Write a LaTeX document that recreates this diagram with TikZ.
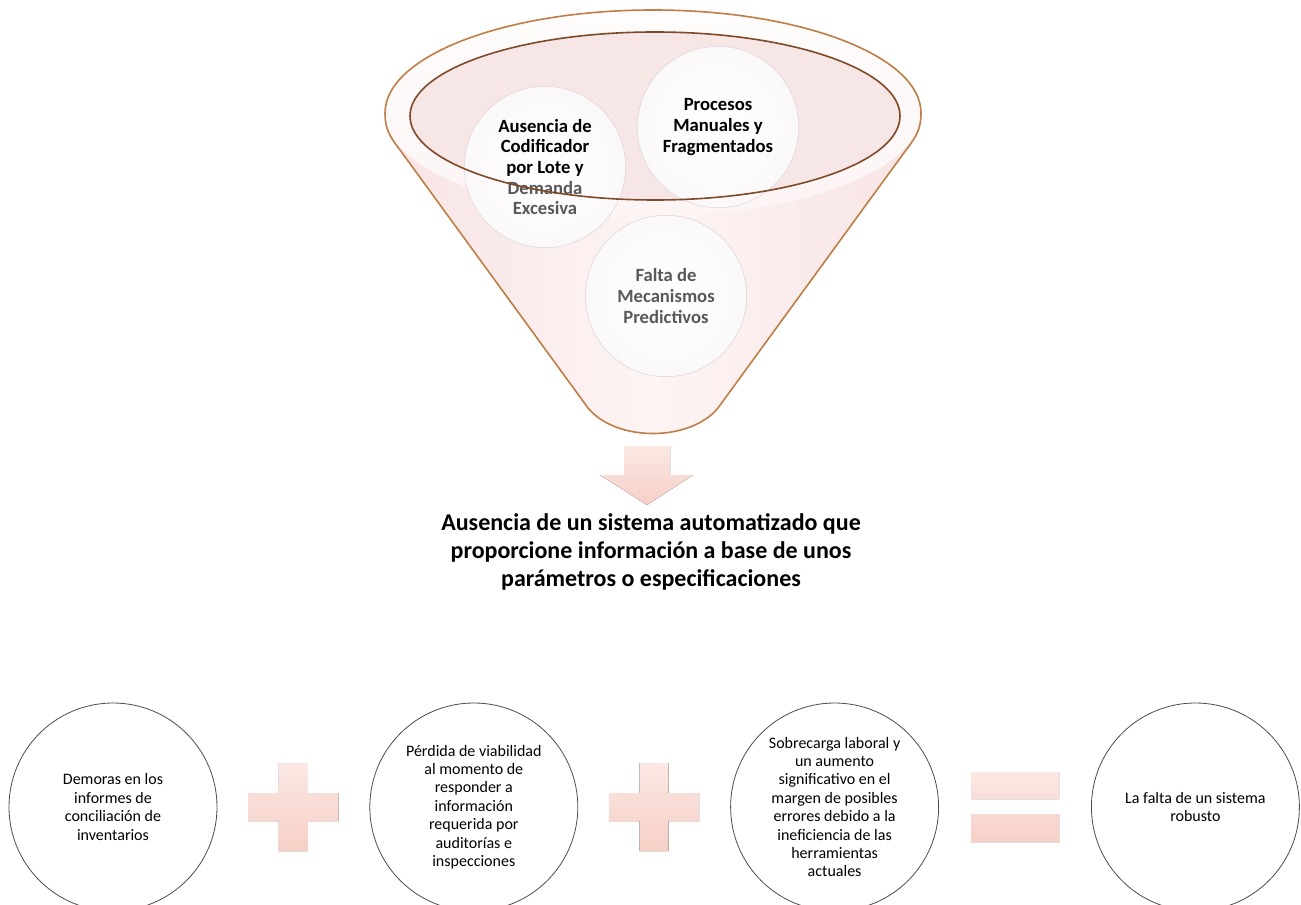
\documentclass[tikz,border=0pt]{standalone}
\usepackage{fontspec}
\setmainfont{Carlito}
\usepackage{tikz}
\usetikzlibrary{positioning,calc}

\definecolor{rimcopper}{HTML}{BE7E45}
\definecolor{rimdark}{HTML}{7E4A2A}
\definecolor{rimwhite}{HTML}{FEFCFC}
\definecolor{bodyedge}{HTML}{F8E4E4}
\definecolor{bodymid}{HTML}{FDF4F4}
\definecolor{mouthpink}{HTML}{F7E6E6}
\definecolor{bubblemid}{HTML}{FAF7F8}
\definecolor{bubbleedge}{HTML}{E8E1E5}
\definecolor{bubblerim}{HTML}{DDD4D9}
\definecolor{signtop}{HTML}{FBE8E4}
\definecolor{signbot}{HTML}{F6CFC6}
\definecolor{causegray}{HTML}{595959}

\pgfdeclareradialshading{bubble}{\pgfpoint{0bp}{0bp}}{color(0bp)=(white); color(28bp)=(bubblemid); color(46bp)=(bubbleedge); color(50bp)=(bubblerim); color(100bp)=(bubblerim)}

\tikzset{
  cause/.style={circle, minimum size=121pt, inner sep=0pt, align=center, shading=bubble, draw=bubblerim, line width=0.4pt, font=\bfseries\fontsize{14}{15.5}\selectfont},
  effect/.style={circle, draw=gray!60!black, line width=0.6pt, minimum size=156pt, inner sep=0pt, align=center, font=\fontsize{12}{13.8}\selectfont},
  signbar/.style={top color=signtop, bottom color=signbot},
  problem/.style={align=center, font=\bfseries\fontsize{18}{21}\selectfont}
}

\begin{document}
\begin{tikzpicture}[x=0.75pt, y=-0.75pt]
    \useasboundingbox (0,0) rectangle (1301,905);
    \clip (0,0) rectangle (1301,905);

    % funnel
    \def\funnel{(385,113) arc[start angle=180, end angle=360, x radius=268, y radius=103]
        .. controls (921,128) and (917,136) .. (906,150) -- (718,408)
        .. controls (690,442) and (616,442) .. (588,408) -- (400,150)
        .. controls (389,136) and (385,128) .. (385,113) -- cycle}
    \shade[left color=bodyedge, right color=bodyedge, middle color=bodymid] \funnel;
    \begin{scope}
        \clip \funnel;
        \shade[top color=rimwhite, bottom color=bodymid] (653,113) ellipse[x radius=268, y radius=103];
    \end{scope}
    \fill[mouthpink] (655,116) ellipse[x radius=245, y radius=84];

    \node[cause] (lote) at (545,167) {Ausencia de\\Codificador\\por Lote y\\\textcolor{causegray}{Demanda}\\\textcolor{causegray}{Excesiva}};
    \node[cause] (procesos) at (718,127) {Procesos\\Manuales y\\Fragmentados};
    \node[cause, text=causegray] (predictivos) at (666,296) {Falta de\\Mecanismos\\Predictivos};

    \draw[rimdark, line width=1.2pt] (655,116) ellipse[x radius=245, y radius=84];
    \draw[rimcopper, line width=1.2pt] \funnel;

    % arrow and result
    \fill[signbar] (624,446) -- (670,446) -- (670,475) -- (693,475) -- (647,505)
        -- (600,475) -- (624,475) -- cycle;
    \node[problem] (sistema) at (651,552) {Ausencia de un sistema automatizado que\\proporcione información a base de unos\\parámetros o especificaciones};

    % bottom row
    \node[effect] (demoras) at (113,807) {Demoras en los\\informes de\\conciliación de\\inventarios};
    \node[effect, right=114pt of demoras] (perdida) {Pérdida de viabilidad\\al momento de\\responder a\\información\\requerida por\\auditorías e\\inspecciones};
    \node[effect, right=114pt of perdida] (sobrecarga) {Sobrecarga laboral y\\un aumento\\significativo en el\\margen de posibles\\errores debido a la\\ineficiencia de las\\herramientas\\actuales};
    \node[effect, right=114pt of sobrecarga] (robusto) {La falta de un sistema\\robusto};

    \coordinate (masA) at ($(demoras)!0.5!(perdida)$);
    \coordinate (masB) at ($(perdida)!0.5!(sobrecarga)$);
    \coordinate (igual) at ($(sobrecarga)!0.5!(robusto)$);
    \foreach \p in {masA,masB}
        \fill[signbar, shift={(\p)}] (-14.5,-44) -- (14.5,-44) -- (14.5,-14) -- (45,-14)
            -- (45,14) -- (14.5,14) -- (14.5,44) -- (-14.5,44) -- (-14.5,14)
            -- (-45,14) -- (-45,-14) -- (-14.5,-14) -- cycle;
    \fill[signbar, shift={(igual)}] (-44,-35) rectangle (44,-8) (-44,7) rectangle (44,35);
\end{tikzpicture}
\end{document}
